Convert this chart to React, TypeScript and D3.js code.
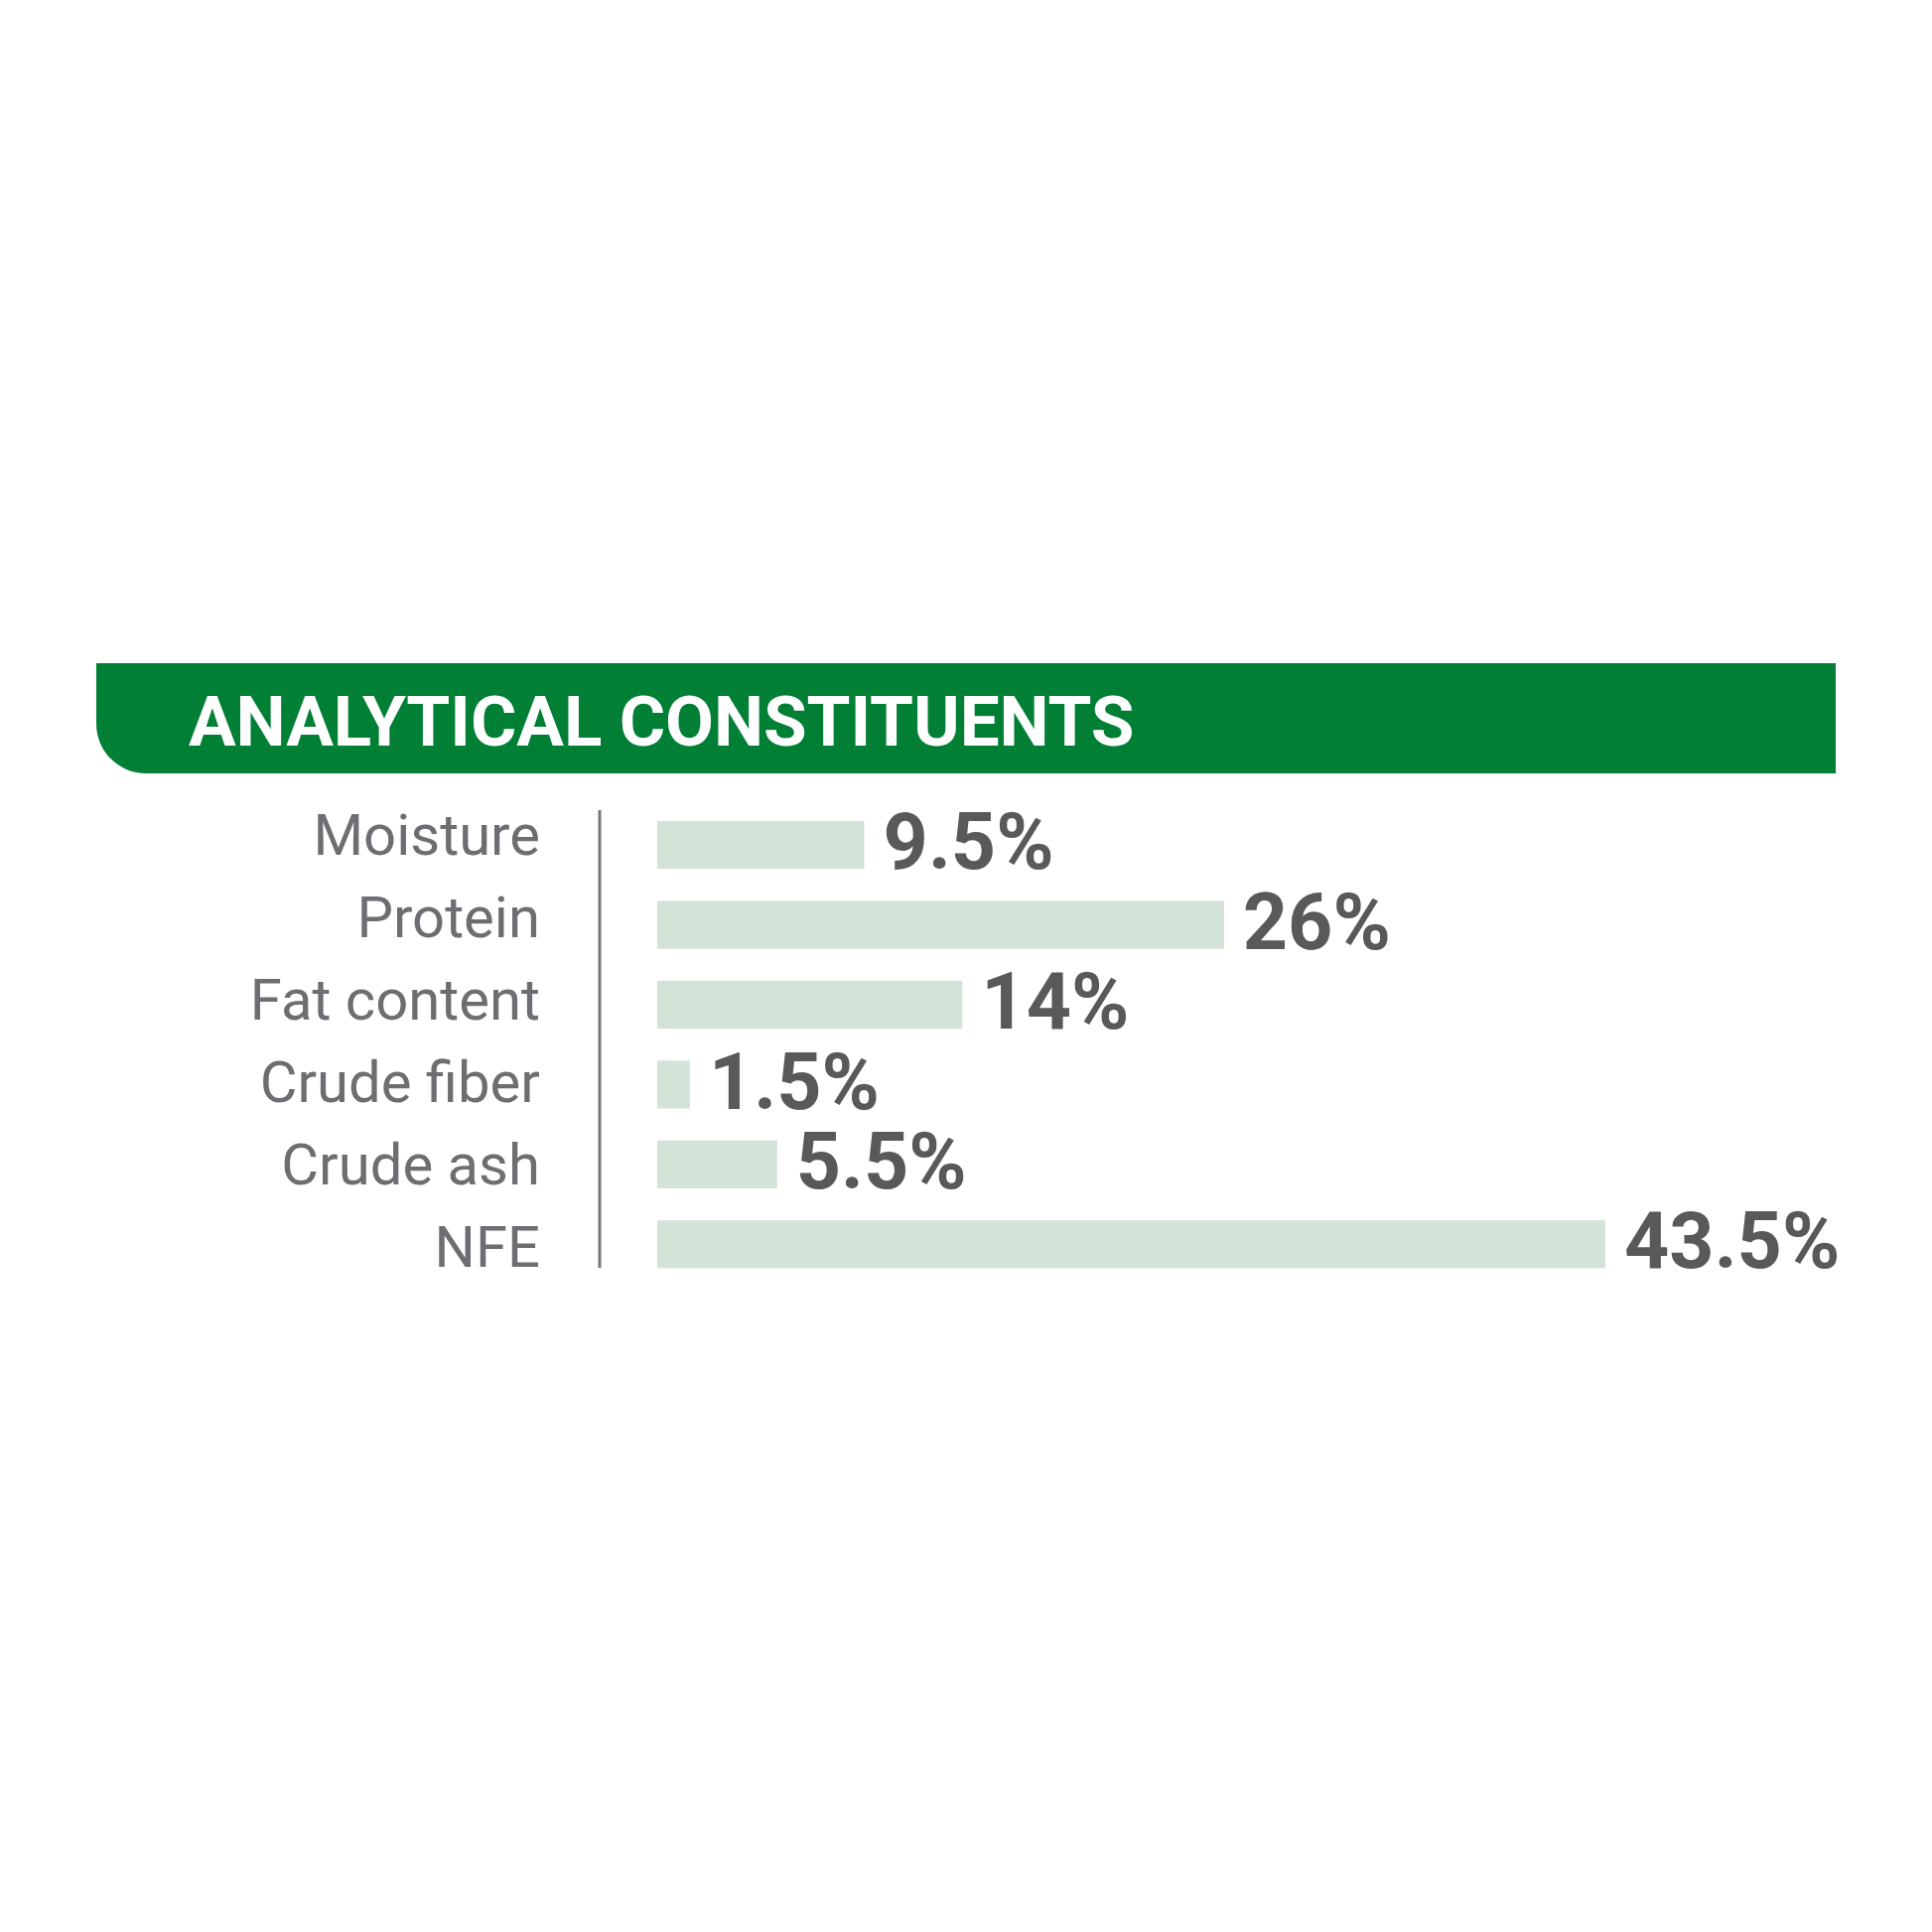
import { useRef, useEffect } from 'react';
import * as d3 from 'd3';

const title = 'ANALYTICAL CONSTITUENTS';
const categories = ['Moisture', 'Protein', 'Fat content', 'Crude fiber', 'Crude ash', 'NFE'];
const values = [9.5, 26, 14, 1.5, 5.5, 43.5];
const valueLabels = ['9.5%', '26%', '14%', '1.5%', '5.5%', '43.5%'];

export default function App() {
  const svgRef = useRef<SVGSVGElement>(null);

  useEffect(() => {
    if (!svgRef.current) return;

    const width = 1946;
    const height = 1946;

    const svg = d3.select(svgRef.current)
      .attr('width', width)
      .attr('height', height);

    svg.selectAll('*').remove();

    svg.append('rect')
      .attr('width', width)
      .attr('height', height)
      .attr('fill', '#ffffff');

    // header band, rounded bottom-left corner
    const hx0 = 97, hx1 = 1849, hy0 = 668, hy1 = 779, r = 50;
    svg.append('path')
      .attr('d', `M${hx0},${hy0} H${hx1} V${hy1} H${hx0 + r} A${r},${r} 0 0 1 ${hx0},${hy1 - r} Z`)
      .attr('fill', '#007f35');

    svg.append('text')
      .attr('x', 190)
      .attr('y', 751)
      .attr('fill', '#ffffff')
      .attr('font-family', 'Roboto, sans-serif')
      .attr('font-weight', 700)
      .attr('font-size', 71)
      .attr('letter-spacing', -0.1)
      .text(title);

    const data = categories.map((c, i) => ({ name: c, value: values[i], label: valueLabels[i] }));

    const x = d3.scaleLinear()
      .domain([0, d3.max(values)!])
      .range([662, 1617]);

    const y = d3.scaleBand<string>()
      .domain(categories)
      .range([827, 1277.4])
      .paddingInner(0.4)
      .paddingOuter(0);

    // category names sit on a slightly wider pitch than the bars
    const yLabel = d3.scalePoint<string>()
      .domain(categories)
      .range([861, 1276]);

    // vertical divider
    svg.append('line')
      .attr('x1', 604)
      .attr('x2', 604)
      .attr('y1', 816)
      .attr('y2', 1277)
      .attr('stroke', '#77787b')
      .attr('stroke-width', 3);

    svg.append('g')
      .selectAll('rect')
      .data(data)
      .join('rect')
      .attr('x', x(0))
      .attr('y', d => y(d.name)!)
      .attr('width', d => x(d.value) - x(0))
      .attr('height', y.bandwidth())
      .attr('fill', '#d3e3d7');

    svg.append('g')
      .selectAll('text')
      .data(data)
      .join('text')
      .attr('x', 544)
      .attr('y', d => yLabel(d.name)!)
      .attr('text-anchor', 'end')
      .attr('fill', '#6d6e71')
      .attr('font-family', 'Roboto, sans-serif')
      .attr('font-size', 58)
      .text(d => d.name);

    svg.append('g')
      .selectAll('text')
      .data(data)
      .join('text')
      .attr('x', d => x(d.value) + 19)
      .attr('y', d => y(d.name)! + y.bandwidth())
      .attr('fill', '#58595b')
      .attr('font-family', 'Roboto, sans-serif')
      .attr('font-weight', 700)
      .attr('font-size', 79)
      .text(d => d.label);
  }, []);

  return (
    <svg ref={svgRef} style={{ position: 'absolute', left: 0, top: 0, display: 'block' }}></svg>
  );
}
